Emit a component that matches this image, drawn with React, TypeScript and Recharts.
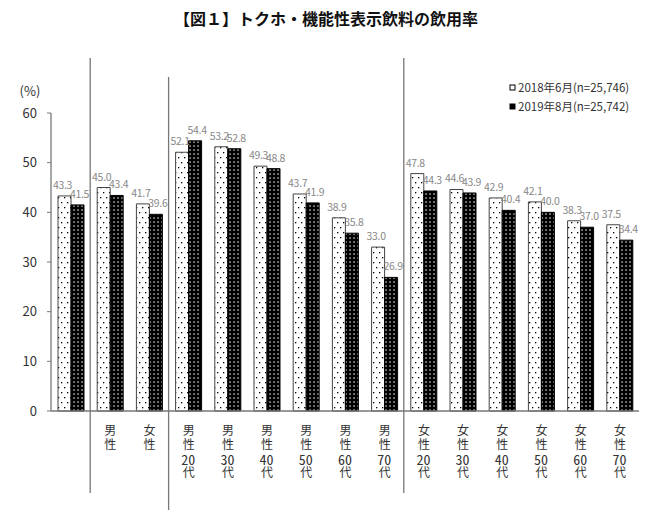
import React from 'react'
import { BarChart, Bar, XAxis, YAxis, LabelList } from 'recharts'

// カテゴリ・系列（図１：トクホ・機能性表示飲料の飲用率）
const categories = [
  '', '男性', '女性',
  '男性20代', '男性30代', '男性40代', '男性50代', '男性60代', '男性70代',
  '女性20代', '女性30代', '女性40代', '女性50代', '女性60代', '女性70代',
]
const rate2018 = [43.3, 45.0, 41.7, 52.1, 53.2, 49.3, 43.7, 38.9, 33.0, 47.8, 44.6, 42.9, 42.1, 38.3, 37.5]
const rate2019 = [41.5, 43.4, 39.6, 54.4, 52.8, 48.8, 41.9, 35.8, 26.9, 44.3, 43.9, 40.4, 40.0, 37.0, 34.4]
const yTicks = [0, 10, 20, 30, 40, 50, 60]
const seriesNames = ['2018年6月(n=25,746)', '2019年8月(n=25,742)']

const W = 652
const H = 522
const MARGIN = { top: 113, right: 13, bottom: 11, left: 0 }
const Y_AXIS_W = 51
const X_AXIS_H = 100
const PLOT_W = W - MARGIN.left - MARGIN.right - Y_AXIS_W
const AXIS_Y = H - MARGIN.bottom - X_AXIS_H

const FONT = '"Noto Sans CJK JP", "Noto Sans", sans-serif'

// 区切り線（カテゴリ境界）
const separators = [
  { index: 1, top: 58, bottom: 493 },
  { index: 3, top: 77, bottom: 510 },
  { index: 9, top: 58, bottom: 493 },
]

const data = categories.map((name, i) => ({
  name,
  y2018: rate2018[i],
  y2019: rate2019[i],
}))

// 縦書きの軸ラベル（数字は縦中横）
function XTick(props: any) {
  const { x, payload } = props
  const value = String(payload.value)
  const idx = categories.indexOf(value)
  const band = PLOT_W / categories.length
  const parts = value.match(/\d+|\D+/g) || []
  const sep = separators.find((s) => s.index === idx)
  return (
    <g>
      {sep && (
        <line
          x1={x - band / 2}
          x2={x - band / 2}
          y1={sep.top}
          y2={sep.bottom}
          stroke="#777"
          strokeWidth={1.3}
        />
      )}
      {parts.length > 0 && (
        <foreignObject x={x - 16} y={AXIS_Y + 13} width={32} height={80}>
          <div style={{ display: 'flex', justifyContent: 'center' }}>
            <div
              style={{
                writingMode: 'vertical-rl',
                textOrientation: 'upright',
                fontSize: 12,
                lineHeight: '16px',
                letterSpacing: '2px',
                color: '#333',
                fontFamily: FONT,
              }}
            >
              {parts.map((p, k) =>
                /\d/.test(p) ? (
                  <span key={k} style={{ textCombineUpright: 'all', fontSize: 14 } as any}>
                    {p}
                  </span>
                ) : (
                  <React.Fragment key={k}>{p}</React.Fragment>
                )
              )}
            </div>
          </div>
        </foreignObject>
      )}
    </g>
  )
}

const labelStyle = { fontSize: 10.5, fill: '#888', fontFamily: FONT, letterSpacing: -0.3 }
const fmt = (v: any) => Number(v).toFixed(1)

export default function App() {
  return (
    <div style={{ position: 'absolute', left: 0, top: 0, width: W, height: H, background: '#fff' }}>
      <BarChart
        width={W}
        height={H}
        data={data}
        margin={MARGIN}
        barGap={0}
        barSize={13}
      >
        <defs>
          <pattern id="dotsW" width="6" height="10" patternUnits="userSpaceOnUse">
            <rect width="6" height="10" fill="#fff" />
            <rect x="1" y="2" width="1.3" height="1.3" fill="#000" />
            <rect x="4" y="7" width="1.3" height="1.3" fill="#000" />
          </pattern>
          <pattern id="dotsB" width="4" height="4" patternUnits="userSpaceOnUse">
            <rect width="4" height="4" fill="#000" />
            <rect x="1.4" y="1.4" width="1.3" height="1.3" fill="#fff" />
          </pattern>
        </defs>
        <text x={326} y={25} textAnchor="middle" fontSize={16} fontWeight={600} fill="#111" fontFamily={FONT}>
          【図１】トクホ・機能性表示飲料の飲用率
        </text>
        <text x={30} y={96} textAnchor="middle" fontSize={13} fill="#333" fontFamily={FONT}>
          (%)
        </text>
        {/* 凡例 */}
        <rect x={510} y={85} width={5} height={5} fill="#fff" stroke="#000" strokeWidth={1} />
        <text x={518} y={92} fontSize={11.5} fill="#333" fontFamily={FONT}>
          {seriesNames[0]}
        </text>
        <rect x={510} y={104} width={5} height={5} fill="#000" stroke="#000" strokeWidth={1} />
        <text x={518} y={111} fontSize={11.5} fill="#333" fontFamily={FONT}>
          {seriesNames[1]}
        </text>
        <XAxis
          dataKey="name"
          height={X_AXIS_H}
          axisLine={{ stroke: '#777', strokeWidth: 1.3 }}
          tickLine={false}
          tick={<XTick />}
          interval={0}
        />
        <YAxis
          width={Y_AXIS_W}
          domain={[0, 60]}
          ticks={yTicks}
          tickSize={4}
          tickMargin={10}
          axisLine={{ stroke: '#777', strokeWidth: 1.3 }}
          tickLine={{ stroke: '#777' }}
          tick={{ fontSize: 13, fill: '#333', fontFamily: FONT }}
        />
        <Bar
          dataKey="y2018"
          name={seriesNames[0]}
          fill="url(#dotsW)"
          stroke="#444"
          strokeWidth={1}
          isAnimationActive={false}
        >
          <LabelList dataKey="y2018" position="top" offset={7} dx={-2} formatter={fmt} style={labelStyle} />
        </Bar>
        <Bar
          dataKey="y2019"
          name={seriesNames[1]}
          fill="url(#dotsB)"
          stroke="#000"
          strokeWidth={1}
          isAnimationActive={false}
        >
          <LabelList dataKey="y2019" position="top" offset={7} dx={2} formatter={fmt} style={labelStyle} />
        </Bar>
      </BarChart>
    </div>
  )
}
